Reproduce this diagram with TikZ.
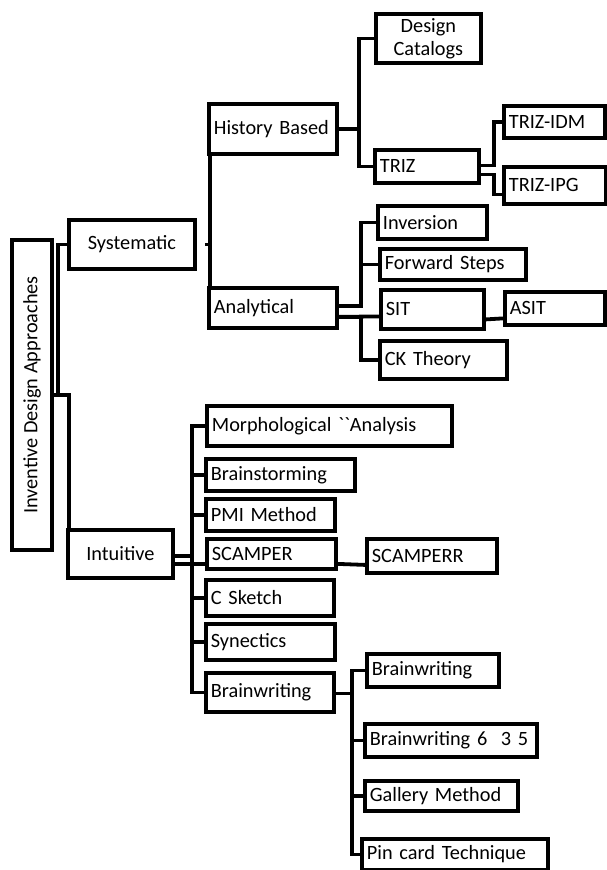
\documentclass[tikz,border=0pt]{standalone}
\usepackage{fontspec}
\setmainfont{Carlito}
\usetikzlibrary{calc}

\begin{document}
\begin{tikzpicture}[x=1pt, y=-1pt,
  box/.style={draw, line width=3.8pt, anchor=north west, inner xsep=5pt, inner ysep=1pt,
    align=left, font=\fontsize{20.3}{23}\selectfont},
  link/.style={line width=3.8pt}]
  \useasboundingbox (0,0) rectangle (606,870);

  % Root and first level
  \node[box, anchor=center, rotate=90, minimum width=310pt, minimum height=40pt, align=center]
    (root) at (32,395) {Inventive Design Approaches};
  \node[box, text width=116pt, minimum height=49pt, align=center] (sys) at (67,218) {Systematic};
  \node[box, text width=95pt, minimum height=48pt, align=center] (intuitive) at (66,528) {Intuitive};

  % Systematic branch
  \node[box, text width=118pt, minimum height=50pt] (hist) at (207,102) {History Based};
  \node[box, text width=118pt, minimum height=40pt] (analytical) at (207,286) {Analytical};
  \node[box, text width=95pt, minimum height=49pt, align=center] (catalogs) at (374,12) {Design\\Catalogs};
  \node[box, text width=94pt, minimum height=33pt] (triz) at (373,148) {TRIZ};
  \node[box, text width=91pt, minimum height=32pt] (idm) at (502,104) {TRIZ-IDM};
  \node[box, text width=92pt, minimum height=37pt] (ipg) at (502,165) {TRIZ-IPG};
  \node[box, text width=99pt, minimum height=33pt] (inversion) at (376,204) {Inversion};
  \node[box, text width=136pt, minimum height=31pt] (forward) at (378,247) {Forward Steps};
  \node[box, text width=93pt, minimum height=39pt] (sit) at (379,288) {SIT};
  \node[box, text width=90pt, minimum height=33pt] (asit) at (503,290) {ASIT};
  \node[box, text width=117pt, minimum height=38pt] (ck) at (378,339) {CK Theory};

  % Intuitive branch
  \node[box, text width=235pt, minimum height=40pt] (morph) at (205,404)
    {Morphological \textasciigrave\textasciigrave Analysis};
  \node[box, text width=139pt, minimum height=32pt] (brainstorm) at (204,457) {Brainstorming};
  \node[box, text width=119pt, minimum height=32pt] (pmi) at (204,497) {PMI Method};
  \node[box, text width=119pt, minimum height=30pt] (scamper) at (205,537) {SCAMPER};
  \node[box, text width=120pt, minimum height=34pt] (scamperr) at (365,537) {SCAMPERR};
  \node[box, text width=118pt, minimum height=36pt] (csketch) at (204,578) {C Sketch};
  \node[box, text width=119pt, minimum height=36pt] (synectics) at (204,622) {Synectics};
  \node[box, text width=118pt, minimum height=39pt] (bwriting) at (204,671) {Brainwriting};
  \node[box, text width=122pt, minimum height=33pt] (bw1) at (365,652) {Brainwriting};
  \node[box, text width=162pt, minimum height=33pt] (bw635) at (363,722) {Brainwriting 6~~3 5};
  \node[box, text width=143pt, minimum height=30pt] (gallery) at (363,779) {Gallery Method};
  \node[box, text width=176pt, minimum height=31pt] (pincard) at (360,837) {Pin card Technique};

  % Connectors from the root
  \draw[link] (root.south) -| ([xshift=-9pt]sys.west) -- (sys.west);
  \draw[link] (root.south) -| ([xshift=3pt]intuitive.north west);

  % Systematic connectors
  \coordinate (sysjoint) at ([xshift=3pt]hist.south west);
  \draw[link] (sysjoint) -- ([xshift=3pt]analytical.north west);
  \draw[link] ([xshift=8pt]sys.east) -- (sysjoint |- sys.east);
  \foreach \n in {catalogs,triz}
    \draw[link] (hist.east) -- ++(20,0) |- (\n.west);
  \draw[link] ([yshift=1pt]triz.east) -- ++(13,0) |- (idm.west);
  \draw[link] ([yshift=-8pt]triz.east) -- ++(13,0) |- ([yshift=-9pt]ipg.west);
  \foreach \n in {inversion,forward}
    \draw[link] ([yshift=2pt]analytical.east) -- ++(22,0) |- (\n.west);
  \draw[link] ([yshift=-9pt]analytical.east) -- ++(22,0) |- (ck.west);
  \draw[link] ([yshift=-9pt]analytical.east) -- ([yshift=-7pt]sit.west);
  \draw[link] ([yshift=-10pt]sit.east) -- ([yshift=-10pt]asit.west);

  % Intuitive connectors
  \foreach \n in {morph,brainstorm,pmi,csketch,synectics,bwriting}
    \draw[link] ([yshift=-2pt]intuitive.east) -- ++(17,0) |- (\n.west);
  \draw[link] ([yshift=-10pt]intuitive.east) -- ([yshift=-10pt]scamper.west);
  \draw[link] ([yshift=-10pt]scamper.east) -- ([yshift=-9pt]scamperr.west);
  \foreach \n in {bw1,bw635,gallery,pincard}
    \draw[link] ([yshift=-1pt]bwriting.east) -- ++(16,0) |- (\n.west);
\end{tikzpicture}
\end{document}
